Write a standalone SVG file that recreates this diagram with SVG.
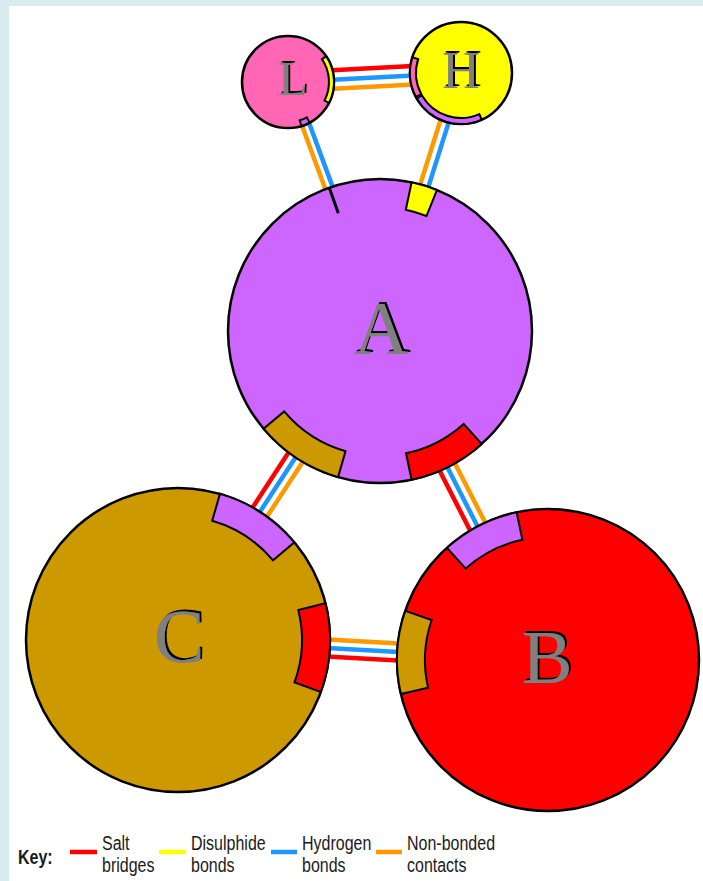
<svg xmlns="http://www.w3.org/2000/svg" width="703" height="881" viewBox="0 0 703 881">
<style>
.node{stroke:#000;stroke-width:2.5}
.patch{stroke:#000;stroke-width:2;stroke-linejoin:miter}
.c{fill:none;stroke-width:4.5;stroke-linecap:butt}
.sb{stroke:#ff0000}.hb{stroke:#1e96ff}.nb{stroke:#ff9900}.ds{stroke:#ffff00}
.lbl{font-family:"Liberation Serif","Times New Roman",serif;text-anchor:middle;fill:#808080;filter:url(#shadow)}
.key{font-family:"Liberation Sans",Arial,sans-serif;font-size:16px;fill:#1a1a1a}
</style>
<defs>
  <filter id="shadow" x="-20%" y="-20%" width="140%" height="140%">
    <feOffset in="SourceAlpha" dx="1.8" dy="-2" result="off"/>
    <feFlood flood-color="#000"/>
    <feComposite in2="off" operator="in" result="sh"/>
    <feMerge><feMergeNode in="sh"/><feMergeNode in="SourceGraphic"/></feMerge>
  </filter>
</defs>
<rect x="0" y="0" width="703" height="881" fill="#d9ecf2"/>
<rect x="9" y="6" width="694" height="875" fill="#ffffff"/>
<g id="connectors">
  <line class="c sb" x1="322.5" y1="70.7" x2="422.3" y2="65.5"/>
  <line class="c hb" x1="323.0" y1="80.2" x2="422.8" y2="75.0"/>
  <line class="c nb" x1="323.5" y1="89.2" x2="423.3" y2="84.0"/>
  <line class="c nb" x1="300.0" y1="120.2" x2="329.4" y2="200.0"/>
  <line class="c hb" x1="307.1" y1="117.6" x2="336.5" y2="197.4"/>
  <line class="c nb" x1="442.3" y1="114.3" x2="418.3" y2="190.7"/>
  <line class="c hb" x1="450.4" y1="116.8" x2="426.4" y2="193.2"/>
  <line class="c sb" x1="246.2" y1="517.3" x2="295.4" y2="442.0"/>
  <line class="c hb" x1="253.3" y1="522.0" x2="302.5" y2="446.7"/>
  <line class="c nb" x1="260.5" y1="526.6" x2="309.7" y2="451.3"/>
  <line class="c sb" x1="434.4" y1="460.5" x2="475.3" y2="540.6"/>
  <line class="c hb" x1="441.9" y1="456.6" x2="482.8" y2="536.7"/>
  <line class="c nb" x1="449.5" y1="452.7" x2="490.4" y2="532.8"/>
  <line class="c nb" x1="318.3" y1="639.1" x2="408.2" y2="643.9"/>
  <line class="c hb" x1="317.8" y1="647.6" x2="407.7" y2="652.4"/>
  <line class="c sb" x1="317.3" y1="656.1" x2="407.2" y2="660.9"/>
</g>
<g id="node-L">
  <circle class="node" cx="288" cy="82" r="46" fill="#ff66b3"/>
  <path class="patch" fill="#ffff00" d="M326.1,56.3 A46,46 0 0 1 329.0,102.9 L324.5,100.6 A41,41 0 0 0 322.0,59.1 Z"/>
  <path class="patch" fill="#cc66ff" d="M309.6,122.6 A46,46 0 0 1 301.5,126.0 L299.7,120.3 A40,40 0 0 0 306.8,117.3 Z"/>
  <text class="lbl" x="293" y="95" font-size="48">L</text>
</g>
<g id="node-H">
  <circle class="node" cx="461" cy="73" r="51" fill="#ffff00"/>
  <path class="patch" fill="#ff66b3" d="M416.0,96.9 A51,51 0 0 1 412.5,57.2 L418.2,59.1 A45,45 0 0 0 421.3,94.1 Z"/>
  <path class="patch" fill="#cc66ff" d="M481.7,119.6 A51,51 0 0 1 416.8,98.5 L422.0,95.5 A45,45 0 0 0 479.3,114.1 Z"/>
  <text class="lbl" x="461" y="88" font-size="52">H</text>
</g>
<g id="node-A">
  <circle class="node" cx="380" cy="331" r="152" fill="#cc66ff"/>
  <path class="patch" fill="#ffff00" d="M411.6,182.3 A152,152 0 0 1 436.9,190.1 L426.5,216.0 A124,124 0 0 0 405.8,209.7 Z"/>
  <line x1="329.3" y1="187.7" x2="338.3" y2="213.2" stroke="#000" stroke-width="3"/>
  <path class="patch" fill="#cc9900" d="M338.1,477.1 A152,152 0 0 1 263.6,428.7 L284.2,411.4 A125,125 0 0 0 345.5,451.2 Z"/>
  <path class="patch" fill="#ff0000" d="M481.7,444.0 A152,152 0 0 1 411.6,479.7 L406.0,453.3 A125,125 0 0 0 463.6,423.9 Z"/>
  <text class="lbl" x="381.5" y="354" font-size="76">A</text>
</g>
<g id="node-C">
  <circle class="node" cx="178" cy="640" r="152" fill="#cc9900"/>
  <path class="patch" fill="#cc66ff" d="M219.9,493.9 A152,152 0 0 1 294.4,542.3 L273.0,560.3 A124,124 0 0 0 212.2,520.8 Z"/>
  <path class="patch" fill="#ff0000" d="M325.5,603.2 A152,152 0 0 1 320.8,692.0 L294.5,682.4 A124,124 0 0 0 298.3,610.0 Z"/>
  <text class="lbl" x="179" y="662" font-size="76">C</text>
</g>
<g id="node-B">
  <circle class="node" cx="548" cy="660" r="151" fill="#ff0000"/>
  <path class="patch" fill="#cc66ff" d="M447.0,547.8 A151,151 0 0 1 516.6,512.3 L522.4,539.7 A123,123 0 0 0 465.7,568.6 Z"/>
  <path class="patch" fill="#cc9900" d="M400.9,694.0 A151,151 0 0 1 405.2,610.8 L431.7,620.0 A123,123 0 0 0 428.1,687.7 Z"/>
  <text class="lbl" x="547" y="683" font-size="76">B</text>
</g>
<g id="key">
  <text class="key" font-weight="bold" transform="translate(18,864) scale(1,1.3)">Key:</text>
  <line class="c sb" x1="70" y1="852" x2="97" y2="852" stroke-width="4"/>
  <text class="key" transform="translate(102,850) scale(1,1.3)">Salt</text>
  <text class="key" transform="translate(102,872) scale(1,1.3)">bridges</text>
  <line class="c ds" x1="159" y1="852" x2="186" y2="852" stroke-width="4"/>
  <text class="key" transform="translate(191,850) scale(1,1.3)">Disulphide</text>
  <text class="key" transform="translate(191,872) scale(1,1.3)">bonds</text>
  <line class="c hb" x1="271" y1="852" x2="297" y2="852" stroke-width="4"/>
  <text class="key" transform="translate(302,850) scale(1,1.3)">Hydrogen</text>
  <text class="key" transform="translate(302,872) scale(1,1.3)">bonds</text>
  <line class="c nb" x1="376" y1="852" x2="402" y2="852" stroke-width="4"/>
  <text class="key" transform="translate(407,850) scale(1,1.3)">Non-bonded</text>
  <text class="key" transform="translate(407,872) scale(1,1.3)">contacts</text>
</g>
</svg>
